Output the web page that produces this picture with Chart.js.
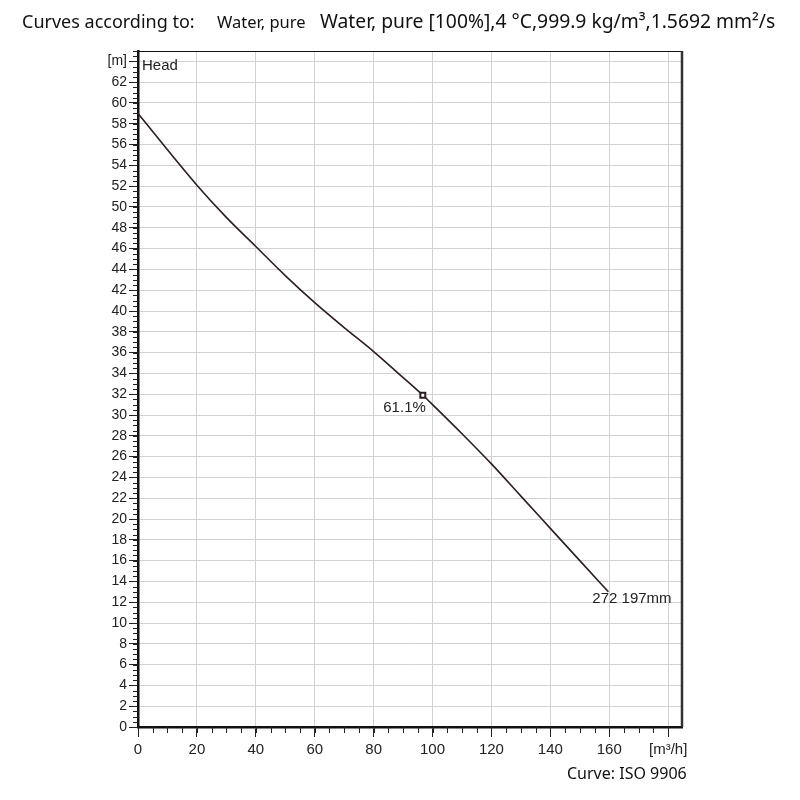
<!DOCTYPE html>
<html>
<head>
<meta charset="utf-8">
<script src="https://cdn.jsdelivr.net/npm/chart.js@4.4.0/dist/chart.umd.min.js"></script>
<style>
  body { margin: 0; background: #fff; }
  #wrap { position: relative; width: 800px; height: 800px; }
  canvas { position: absolute; left: 0; top: 0; }
  .t { position: absolute; white-space: nowrap; color: #111; font-family: "Noto Sans", sans-serif; line-height: 24px; }
</style>
</head>
<body>
<div id="wrap">
  <canvas id="headChart" width="800" height="800"></canvas>
  <div class="t" style="left:22px;top:9px;font-size:18px">Curves according to:</div>
  <div class="t" style="left:217px;top:10px;font-size:16.5px">Water, pure</div>
  <div class="t" style="left:320px;top:9px;font-size:19.3px">Water, pure [100%],4 °C,999.9 kg/m³,1.5692 mm²/s</div>
  <div class="t" style="left:567px;top:761px;font-size:16px">Curve: ISO 9906</div>
</div>
<script>
// Head curve (flow in m³/h, head in m)
const flow = [0, 10, 20, 30, 40, 50, 60, 70, 80, 90, 96.7, 100, 110, 120, 130, 140, 150, 159.7];
const head = [59.0, 55.5, 52.1, 49.0, 46.2, 43.4, 40.8, 38.4, 36.1, 33.6, 31.9, 31.0, 28.2, 25.3, 22.2, 19.1, 16.0, 13.0];

// best efficiency point
const bepFlow = [96.7];
const bepHead = [31.9];
const bepLabel = '61.1%';
const curveLabel = '272 197mm';

// axes
const xTicks = [0, 20, 40, 60, 80, 100, 120, 140, 160, 180];
const yTicks = [0, 2, 4, 6, 8, 10, 12, 14, 16, 18, 20, 22, 24, 26, 28, 30, 32, 34, 36, 38, 40, 42, 44, 46, 48, 50, 52, 54, 56, 58, 60, 62, 64];
const xUnit = '[m³/h]';
const yUnit = '[m]';
const xMinorStep = 5;
const yMinorStep = 0.5;

const fontFamily = '"Liberation Sans", Arial, sans-serif';

// minor ticks, frame and point labels
const extras = {
  id: 'extras',
  afterDraw(chart) {
    const { ctx, chartArea: a, scales: { x, y } } = chart;
    ctx.save();
    ctx.strokeStyle = '#222';
    ctx.lineWidth = 1;
    ctx.beginPath();
    for (let v = 0; v <= y.max; v += yMinorStep) {
      const py = Math.round(y.getPixelForValue(v)) + 0.5;
      ctx.moveTo(a.left - 5, py);
      ctx.lineTo(a.left, py);
    }
    for (let v = 0; v <= x.max; v += xMinorStep) {
      const px = Math.round(x.getPixelForValue(v)) + 0.5;
      ctx.moveTo(px, a.bottom);
      ctx.lineTo(px, a.bottom + 6);
    }
    ctx.stroke();

    // top and right border
    ctx.beginPath();
    ctx.strokeStyle = '#111';
    ctx.lineWidth = 1;
    ctx.moveTo(a.left, a.top + 0.5);
    ctx.lineTo(a.right, a.top + 0.5);
    ctx.stroke();
    ctx.beginPath();
    ctx.strokeStyle = '#333';
    ctx.lineWidth = 2.5;
    ctx.moveTo(a.right, a.top);
    ctx.lineTo(a.right, a.bottom);
    ctx.stroke();

    ctx.font = '15px ' + fontFamily;
    ctx.fillStyle = '#222';
    ctx.textBaseline = 'top';
    ctx.textAlign = 'right';
    ctx.fillText(bepLabel, x.getPixelForValue(bepFlow[0]) + 3, y.getPixelForValue(bepHead[0]) + 5);
    ctx.textAlign = 'left';
    const last = flow.length - 1;
    ctx.fillText(curveLabel, x.getPixelForValue(flow[last]) - 16, y.getPixelForValue(head[last]) + 0);

    ctx.fillText('Head', a.left + 4, a.top + 7);
    ctx.restore();
  }
};

const ctx = document.getElementById('headChart').getContext('2d');

const headChart = new Chart(ctx, {
  type: 'scatter',
  data: {
    datasets: [{
      label: 'BEP',
      data: bepFlow.map((q, i) => ({ x: q, y: bepHead[i] })),
      pointStyle: 'rect',
      pointRadius: 3.5,
      pointBorderWidth: 2,
      pointBorderColor: '#2b1a1f',
      pointBackgroundColor: '#fff'
    }, {
      label: 'Head',
      data: flow.map((q, i) => ({ x: q, y: head[i] })),
      showLine: true,
      borderColor: '#2b1d22',
      borderWidth: 1.6,
      pointRadius: 0,
      cubicInterpolationMode: 'monotone'
    }]
  },
  options: {
    responsive: false,
    animation: false,
    layout: { padding: { top: 51, right: 118, left: 0, bottom: 0 } },
    plugins: { legend: { display: false }, tooltip: { enabled: false } },
    scales: {
      x: {
        type: 'linear',
        min: 0,
        max: 184.7,
        afterBuildTicks: axis => { axis.ticks = xTicks.map(v => ({ value: v })); },
        afterFit: scale => { scale.height = 73; },
        ticks: {
          callback: v => (v === 180 ? xUnit : v),
          font: { family: fontFamily, size: 15 },
          color: '#222',
          padding: 4,
          maxRotation: 0
        },
        grid: { color: '#d2d2d2', tickColor: '#222', tickLength: 10 },
        border: { color: '#111', width: 2.5 }
      },
      y: {
        min: 0,
        max: 65,
        afterBuildTicks: axis => { axis.ticks = yTicks.map(v => ({ value: v })); },
        afterFit: scale => { scale.width = 138; },
        ticks: {
          callback: v => (v === 64 ? yUnit : v),
          font: { family: fontFamily, size: 14 },
          color: '#222',
          padding: 2
        },
        grid: { color: '#d2d2d2', tickColor: '#222', tickLength: 9 },
        border: { color: '#111', width: 2.5 }
      }
    }
  },
  plugins: [extras]
});
</script>
</body>
</html>
